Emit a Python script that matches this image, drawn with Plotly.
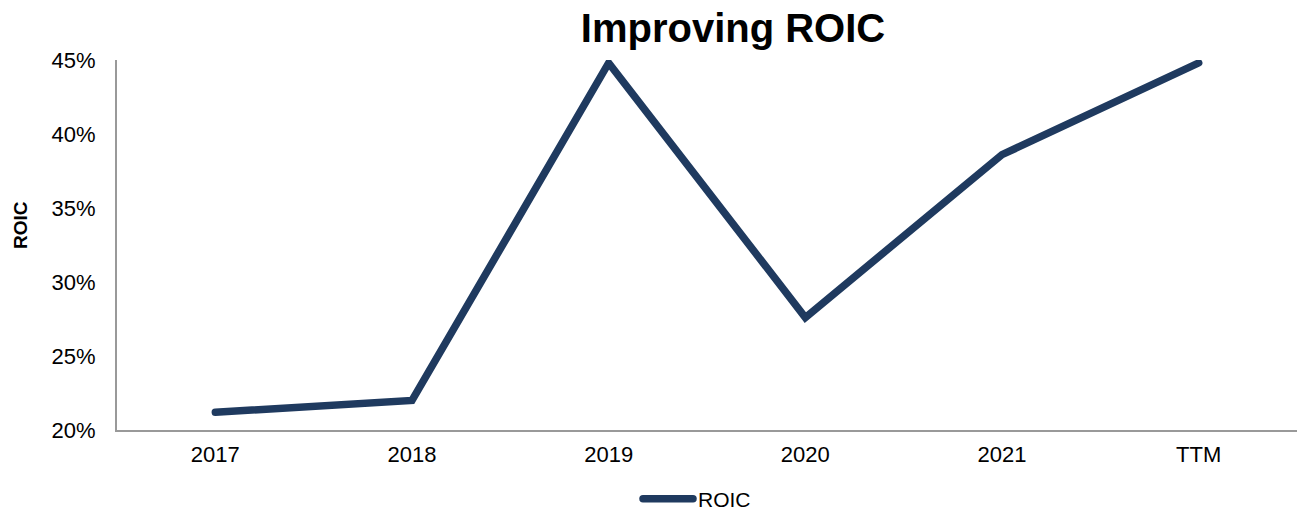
import plotly.graph_objects as go

categories = ["2017", "2018", "2019", "2020", "2021", "TTM"]
roic = [21.2, 22.0, 44.8, 27.6, 38.6, 44.8]
y_ticks = [20, 25, 30, 35, 40, 45]
y_tick_labels = ["20%", "25%", "30%", "35%", "40%", "45%"]

W, H = 1298, 510
L, R, T, B = 117, 1, 60, 80
PW, PH = W - L - R, H - T - B

fig = go.Figure()
fig.add_trace(go.Scatter(
    x=categories, y=roic, mode="lines", name="ROIC",
    line=dict(color="#1F3A5F", width=7.5),
))

fig.update_layout(
    width=W, height=H,
    margin=dict(l=L, r=R, t=T, b=B, autoexpand=False),
    paper_bgcolor="white", plot_bgcolor="white",
    font=dict(family="Liberation Sans, Arial, sans-serif", size=22, color="#000"),
    title=dict(text="<b>Improving ROIC</b>", font=dict(size=40, color="#000"),
               x=(733 - L) / PW, xref="paper", xanchor="center",
               y=1 - 28 / H, yref="container", yanchor="middle"),
    showlegend=True,
    legend=dict(orientation="h", x=(697 - L) / PW, xanchor="center",
                y=-(499 - (T + PH)) / PH, yanchor="middle",
                font=dict(size=21), itemwidth=50),
    xaxis=dict(type="category", range=[-0.5, 5.5], showgrid=False,
               showline=True, linecolor="#999", linewidth=2, ticks="",
               tickfont=dict(size=22), ticklabelstandoff=4, automargin=False),
    yaxis=dict(range=[20, 45], tickvals=y_ticks, ticktext=y_tick_labels,
               showgrid=False, showline=True, linecolor="#999", linewidth=2,
               ticks="", zeroline=False, tickfont=dict(size=22),
               ticklabelstandoff=15, automargin=False),
    annotations=[dict(text="<b>ROIC</b>", textangle=-90, xref="paper", yref="paper",
                      x=(20 - L) / PW, y=(T + PH - 225) / PH,
                      xanchor="center", yanchor="middle", showarrow=False,
                      font=dict(size=19, color="#000"))],
)

post = ("document.body.style.margin='0';"
        "document.querySelectorAll('.scatterlayer path.js-line, .legendlines path')"
        ".forEach(function(p){p.style.strokeLinecap='round';});")
fig.write_html("out.html", post_script=post, config={"displayModeBar": False})
